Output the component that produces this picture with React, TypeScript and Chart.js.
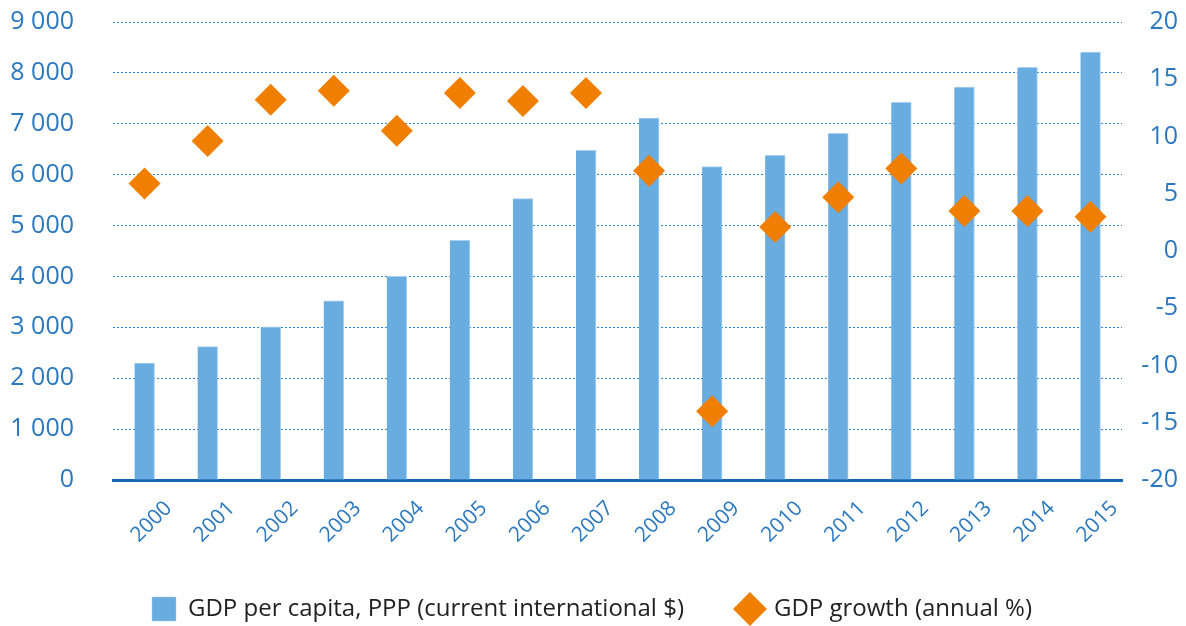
import React, { useEffect, useRef } from "react";
import { Chart, registerables } from "chart.js";

Chart.register(...registerables);

const years = ["2000","2001","2002","2003","2004","2005","2006","2007","2008","2009","2010","2011","2012","2013","2014","2015"];
const gdpPerCapita = [2300, 2620, 3010, 3520, 4000, 4710, 5530, 6480, 7110, 6160, 6380, 6810, 7420, 7720, 8110, 8410];
const gdpGrowth = [5.9, 9.6, 13.2, 14.0, 10.5, 13.8, 13.1, 13.8, 7.0, -14.0, 2.1, 4.7, 7.2, 3.5, 3.5, 3.0];
const seriesNames = ["GDP per capita, PPP (current international $)", "GDP growth (annual %)"];

const BLUE_TEXT = "#2a78bf";
const BAR = "#69ace0";
const ORANGE = "#f07f00";
const FONT = "'Open Sans', 'Noto Sans', sans-serif";

export default function App() {
  const ref = useRef<HTMLCanvasElement | null>(null);
  useEffect(() => {
    if (!ref.current) return;
    const chart = new Chart(ref.current, {
      data: {
        labels: years,
        datasets: [
          {
            type: "line",
            label: seriesNames[1],
            data: gdpGrowth,
            yAxisID: "y1",
            showLine: false,
            pointStyle: "rectRot",
            pointRadius: 16,
            pointBorderWidth: 0,
            pointBackgroundColor: ORANGE,
            borderColor: ORANGE,
            backgroundColor: ORANGE,
            clip: false,
            order: 0,
          },
          {
            type: "bar",
            label: seriesNames[0],
            data: gdpPerCapita,
            yAxisID: "y",
            backgroundColor: BAR,
            borderColor: "#a9d0ef",
            borderWidth: { left: 0, right: 1, top: 1, bottom: 0 },
            barThickness: 20,
            pointStyle: "rect",
            order: 1,
          },
        ],
      },
      options: {
        animation: false,
        responsive: true,
        maintainAspectRatio: false,
        layout: { autoPadding: false, padding: { top: 0, left: 6, right: 8, bottom: -5 } },
        plugins: {
          tooltip: { enabled: false },
          legend: {
            position: "bottom",
            reverse: true,
            labels: {
              usePointStyle: true,
              color: "#222",
              font: { family: FONT, size: 24 },
              padding: 54,
            },
          },
        },
        scales: {
          x: {
            offset: true,
            grid: { display: false, drawTicks: false },
            border: { display: true, color: "#1565b0", width: 3 },
            afterFit: (s: any) => {
              s.paddingLeft = 0;
              s.paddingRight = 0;
              s.height = 63;
            },
            ticks: {
              color: BLUE_TEXT,
              font: { family: FONT, size: 21 },
              minRotation: 45,
              maxRotation: 45,
              autoSkip: false,
              padding: 16,
              labelOffset: 24,
            },
          },
          y: {
            position: "left",
            min: 0,
            max: 9000,
            afterFit: (s: any) => {
              s.width = 107;
              s.paddingTop = 22;
              s.paddingBottom = 0;
            },
            grid: { color: "#2f86c8", lineWidth: 1, drawTicks: false },
            border: { display: false, dash: [2, 2] },
            ticks: {
              stepSize: 1000,
              color: BLUE_TEXT,
              font: { family: FONT, size: 25 },
              padding: 39,
              callback: (v: any) => {
                const n = Number(v);
                if (n >= 1000) return Math.floor(n / 1000) + " " + String(n % 1000).padStart(3, "0");
                return String(n);
              },
            },
          },
          y1: {
            position: "right",
            min: -20,
            max: 20,
            afterFit: (s: any) => {
              s.width = 56;
              s.paddingTop = 22;
              s.paddingBottom = 0;
            },
            grid: { drawOnChartArea: false, drawTicks: false },
            border: { display: false },
            ticks: {
              stepSize: 5,
              color: BLUE_TEXT,
              font: { family: FONT, size: 25 },
              padding: 14,
              crossAlign: "far",
            },
          },
        },
      },
    });
    return () => chart.destroy();
  }, []);
  return (
    <div style={{ position: "absolute", left: 0, top: 0, width: "1186px", height: "626px" }}>
      <canvas ref={ref} />
    </div>
  );
}
